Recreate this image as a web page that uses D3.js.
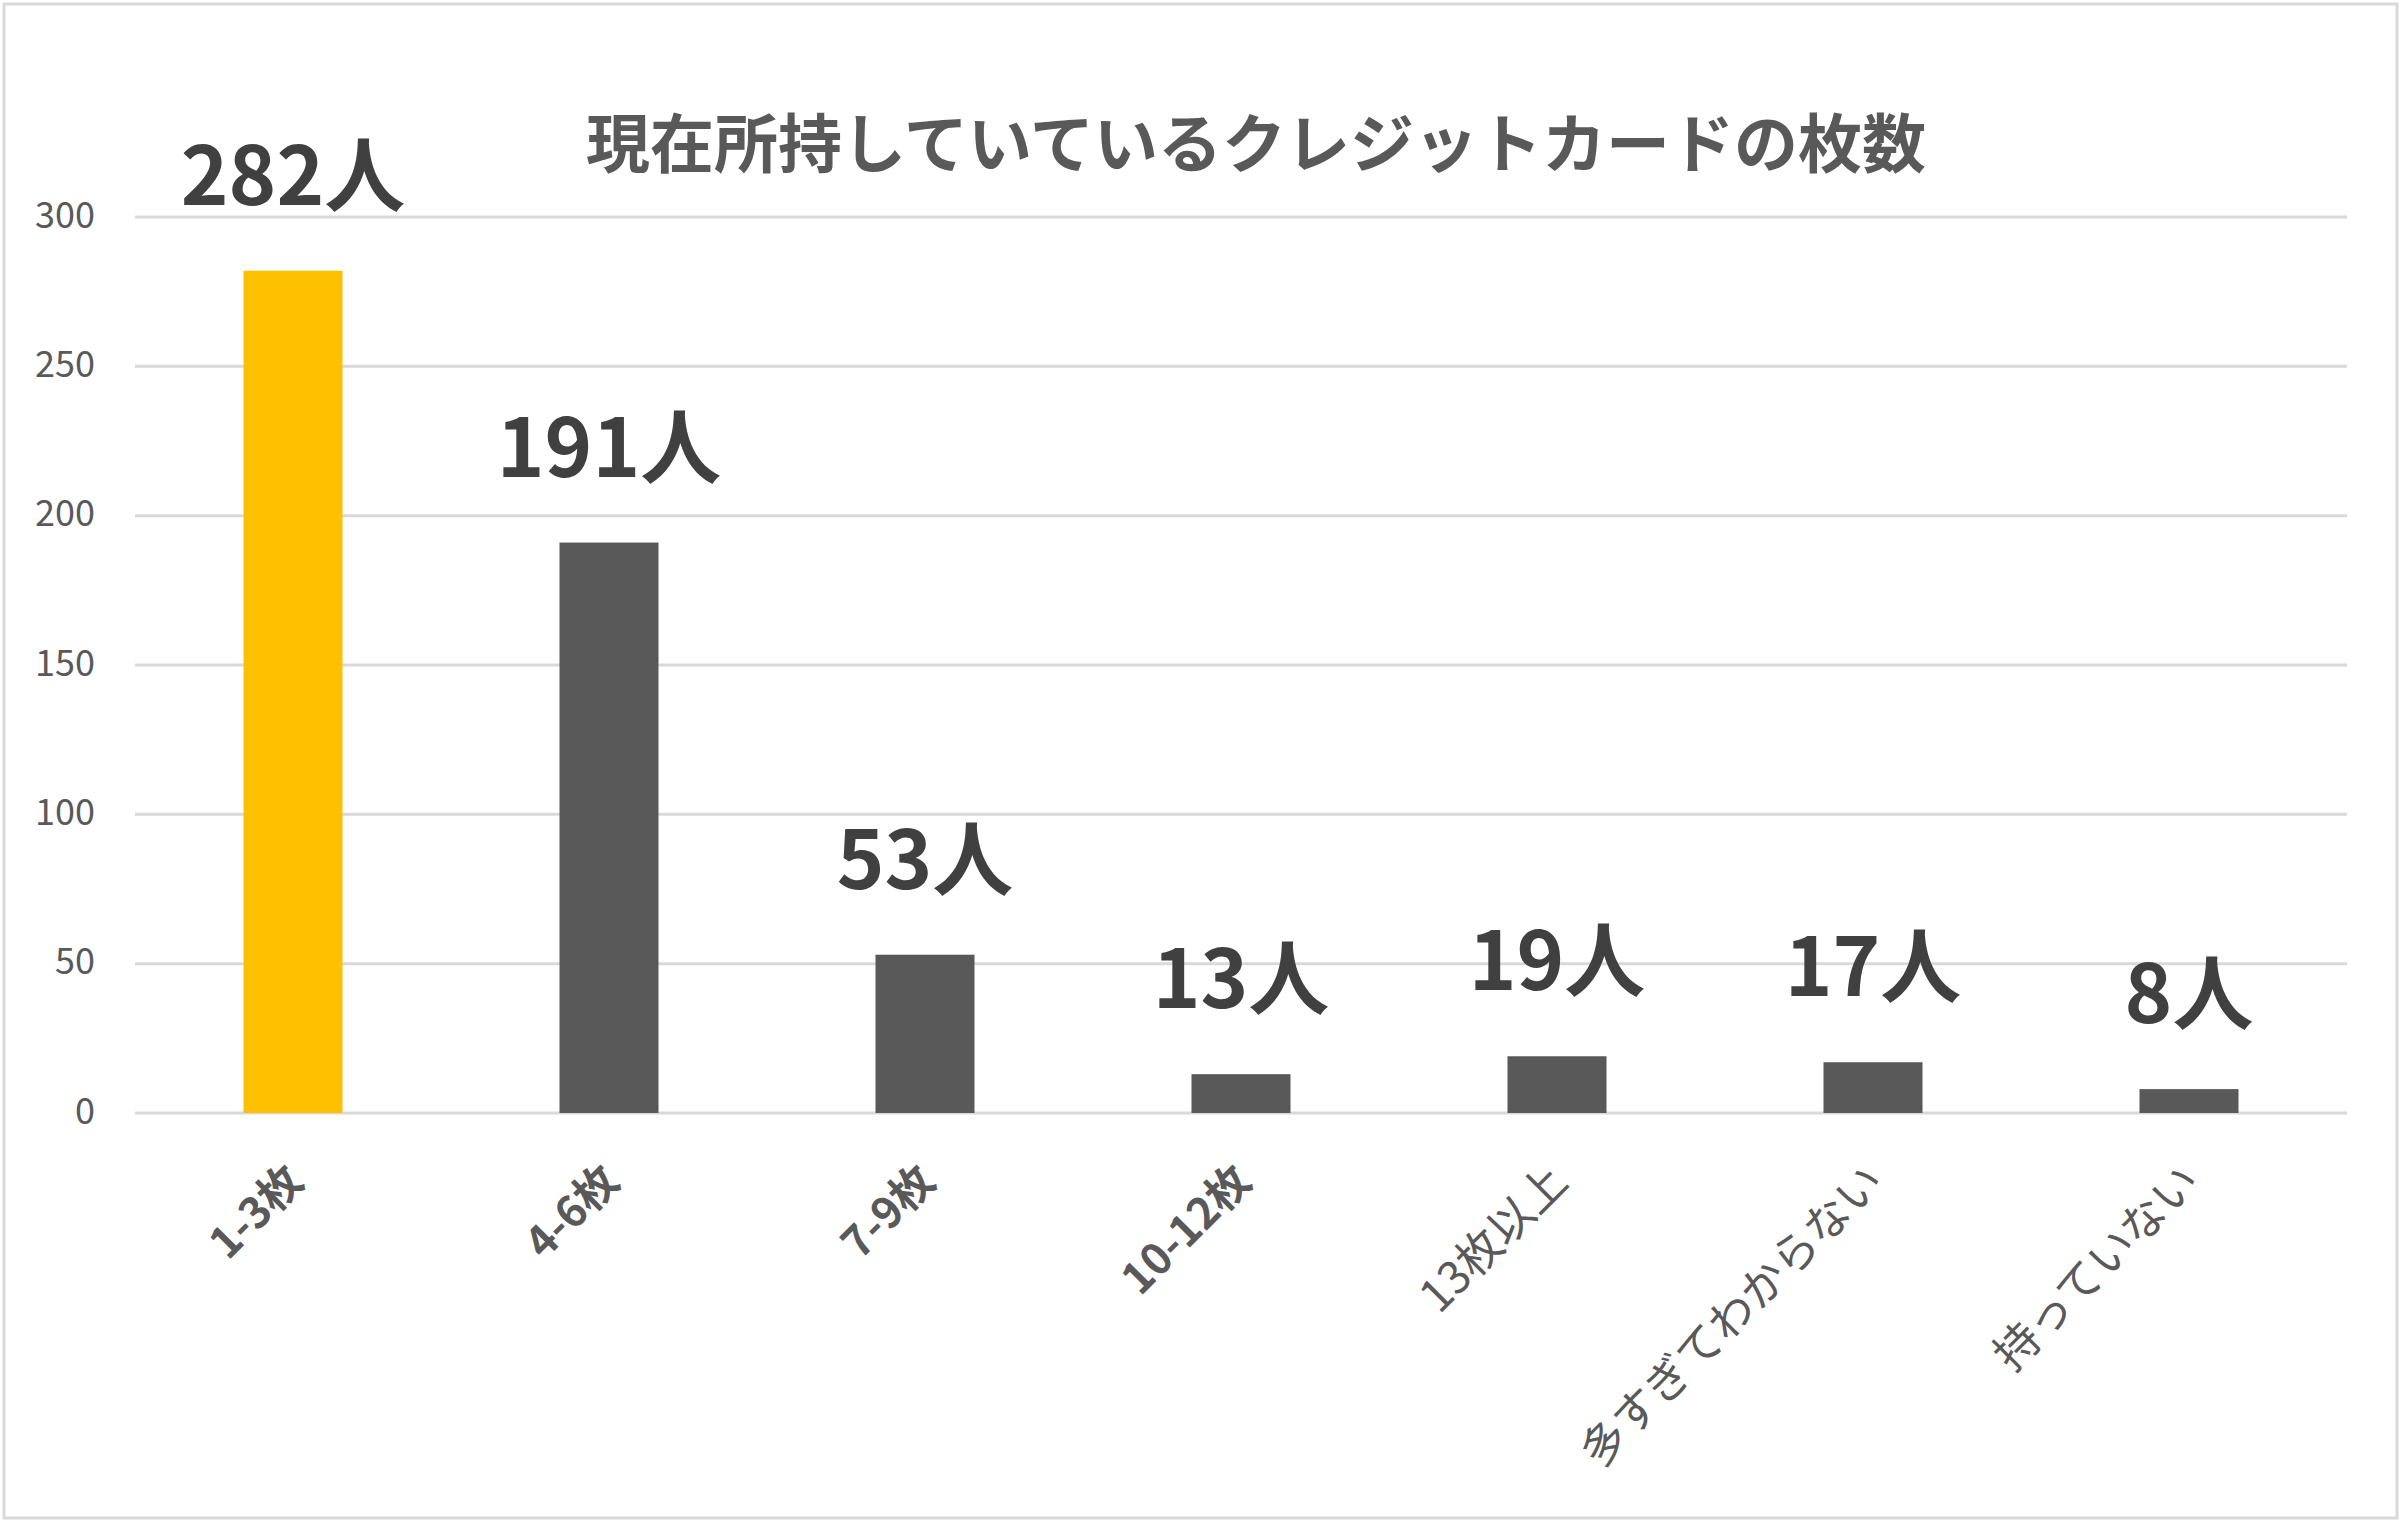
<!DOCTYPE html>
<html>
<head>
<meta charset="utf-8">
<script src="https://cdn.jsdelivr.net/npm/d3@7"></script>
<style>
  html, body { margin: 0; padding: 0; background: #ffffff; }
  svg { display: block; }
  text { font-family: "Noto Sans CJK JP", "Noto Sans", sans-serif; }
</style>
</head>
<body>
<script>
const categories = ["1-3枚", "4-6枚", "7-9枚", "10-12枚", "13枚以上", "多すぎてわからない", "持っていない"];
const values = [282, 191, 53, 13, 19, 17, 8];
const dataLabels = ["282人", "191人", "53人", "13人", "19人", "17人", "8人"];
const highlight = [true, false, false, false, false, false, false];
const boldCategory = [true, true, true, true, false, false, false];
const yTicks = [0, 50, 100, 150, 200, 250, 300];
const title = "現在所持していているクレジットカードの枚数";

const W = 2406, H = 1526;
const svg = d3.select("body").append("svg").attr("width", W).attr("height", H);

svg.append("rect").attr("x", 4).attr("y", 4).attr("width", 2393).attr("height", 1514)
  .attr("fill", "#ffffff").attr("stroke", "#d9d9d9").attr("stroke-width", 3);

const x = d3.scaleBand().domain(categories).range([135, 2347]).paddingInner(0.6867).paddingOuter(0.34335);
const y = d3.scaleLinear().domain([0, 300]).range([1113, 217]);

// gridlines
svg.append("g").selectAll("line").data(yTicks).join("line")
  .attr("x1", 135).attr("x2", 2347)
  .attr("y1", d => y(d)).attr("y2", d => y(d))
  .attr("stroke", "#d9d9d9").attr("stroke-width", 3);

// y axis labels
const yAxis = d3.axisLeft(y).tickValues(yTicks).tickSize(0).tickPadding(0);
const yg = svg.append("g").attr("transform", "translate(95,0)").call(yAxis);
yg.select(".domain").remove();
yg.selectAll("text").attr("font-size", 36).attr("fill", "#595959")
  .attr("font-family", "'Noto Sans CJK JP', sans-serif").attr("dy", "0.28em").attr("x", 0);

// bars
svg.append("g").selectAll("rect").data(values).join("rect")
  .attr("x", (d, i) => x(categories[i]))
  .attr("width", x.bandwidth())
  .attr("y", d => y(d))
  .attr("height", d => y(0) - y(d))
  .attr("fill", (d, i) => highlight[i] ? "#ffc000" : "#595959");

// data labels
svg.append("g").selectAll("text").data(values).join("text")
  .attr("x", (d, i) => x(categories[i]) + x.bandwidth() / 2)
  .attr("y", d => y(d) - 66)
  .attr("text-anchor", "middle")
  .attr("font-size", 81).attr("font-weight", "bold").attr("fill", "#404040")
  .text((d, i) => dataLabels[i]);

// x axis labels
const xAxis = d3.axisBottom(x).tickSize(0).tickPadding(0);
const xg = svg.append("g").attr("transform", "translate(0,1113)").call(xAxis);
xg.select(".domain").remove();
xg.selectAll(".tick text")
  .attr("font-family", "'Noto Sans CJK JP', sans-serif")
  .attr("font-size", (d, i) => boldCategory[i] ? 43 : 45).attr("fill", "#595959")
  .attr("font-weight", (d, i) => boldCategory[i] ? "bold" : "normal")
  .attr("text-anchor", "end")
  .attr("dy", "0.35em")
  .attr("y", 0)
  .attr("transform", "translate(2,60) rotate(-45)");

// title
svg.append("text").attr("x", 1256).attr("y", 167).attr("text-anchor", "middle")
  .attr("font-size", 64).attr("font-weight", "bold").attr("fill", "#595959")
  .text(title);
</script>
</body>
</html>
